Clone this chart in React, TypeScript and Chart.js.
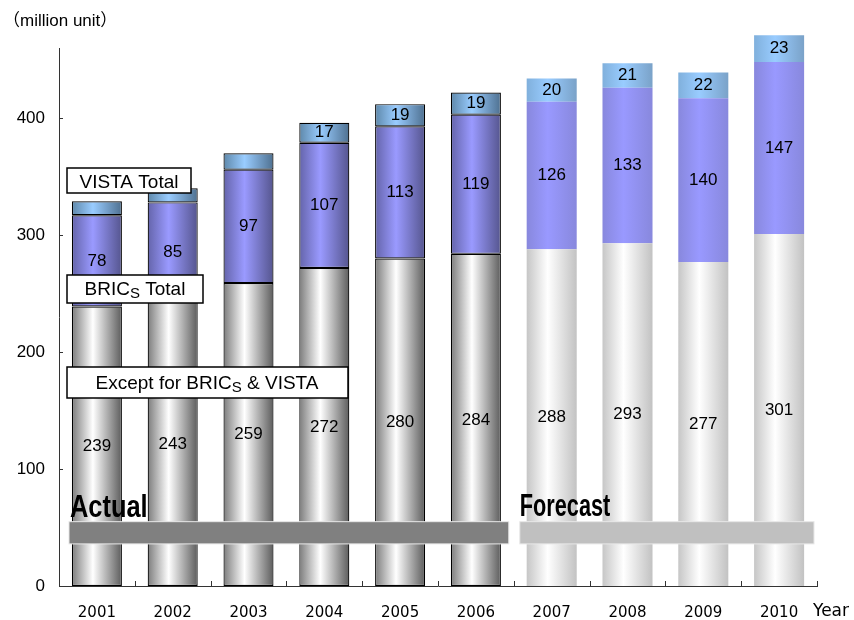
import React, { useEffect, useRef } from "react";
import { Chart, registerables } from "chart.js";

Chart.register(...registerables);

const years = ["2001", "2002", "2003", "2004", "2005", "2006", "2007", "2008", "2009", "2010"];
const exceptValues = [239, 243, 259, 272, 280, 284, 288, 293, 277, 301];
const bricsValues = [78, 85, 97, 107, 113, 119, 126, 133, 140, 147];
const vistaValues = [12, 12, 14, 17, 19, 19, 20, 21, 22, 23];
const vistaLabelShown = [false, false, false, true, true, true, true, true, true, true];
const yTicks = [0, 100, 200, 300, 400];
const actualCount = 6;

const FONT = "'Liberation Sans', Arial, sans-serif";

type Stops = [number, string][];
const palettes: Record<string, { actual: Stops; forecast: Stops }> = {
  except: {
    actual: [[0, "#7c7c7c"], [0.42, "#ffffff"], [1, "#5c5c5c"]],
    forecast: [[0, "#c6c6c6"], [0.42, "#ffffff"], [1, "#c2c2c2"]],
  },
  brics: {
    actual: [[0, "#6464aa"], [0.42, "#9a9aff"], [1, "#55558e"]],
    forecast: [[0, "#8888dd"], [0.42, "#9999ff"], [1, "#8888dd"]],
  },
  vista: {
    actual: [[0, "#5e88aa"], [0.42, "#99ccff"], [1, "#4e7090"]],
    forecast: [[0, "#80b0dc"], [0.42, "#99ccff"], [1, "#7aa2c8"]],
  },
};

function gradientFor(key: string) {
  return (ctx: any) => {
    const chart = ctx.chart;
    const xs = chart.scales && chart.scales.x;
    const idx = ctx.dataIndex ?? 0;
    const stops = idx < actualCount ? palettes[key].actual : palettes[key].forecast;
    if (!xs || !isFinite(xs.width) || xs.width <= 0) return stops[1][1];
    const cx = xs.getPixelForValue(idx);
    const w = (xs.width / years.length) * 0.66;
    const g = chart.ctx.createLinearGradient(cx - w / 2, 0, cx + w / 2, 0);
    stops.forEach(([o, c]) => g.addColorStop(o, c));
    return g;
  };
}

const borderW = (ctx: any) => ((ctx.dataIndex ?? 0) < actualCount ? 1.2 : 0);

const overlayPlugin = {
  id: "overlay",
  afterDatasetsDraw(chart: any) {
    const { ctx, chartArea, scales } = chart;
    const xs = scales.x;
    const ys = scales.y;
    ctx.save();

    // value labels
    ctx.fillStyle = "#000";
    ctx.font = `17px ${FONT}`;
    ctx.textAlign = "center";
    ctx.textBaseline = "middle";
    chart.data.datasets.forEach((ds: any, di: number) => {
      const meta = chart.getDatasetMeta(di);
      meta.data.forEach((el: any, i: number) => {
        if (di === 2 && !vistaLabelShown[i]) return;
        const top = Math.min(el.y, el.base);
        const bot = Math.max(el.y, el.base);
        ctx.fillText(String(ds.data[i]), el.x, (top + bot) / 2);
      });
    });

    // custom ticks (inside)
    ctx.strokeStyle = "#333";
    ctx.lineWidth = 1;
    ctx.beginPath();
    yTicks.forEach((v) => {
      const y = Math.round(ys.getPixelForValue(v)) + 0.5;
      ctx.moveTo(chartArea.left, y);
      ctx.lineTo(chartArea.left + 4, y);
    });
    const cw = xs.width / years.length;
    for (let i = 1; i <= years.length; i++) {
      const x = Math.round(chartArea.left + cw * i) + 0.5;
      ctx.moveTo(x, chartArea.bottom);
      ctx.lineTo(x, chartArea.bottom - 5);
    }
    ctx.stroke();

    // Actual / Forecast bands
    const bandTop = ys.getPixelForValue(55);
    const bandBot = ys.getPixelForValue(36);
    const split = chartArea.left + cw * actualCount;
    ctx.fillStyle = "#808080";
    ctx.strokeStyle = "#e8e8e8";
    ctx.lineWidth = 1;
    ctx.fillRect(chartArea.left + 10, bandTop, split - 5 - (chartArea.left + 10), bandBot - bandTop);
    ctx.strokeRect(chartArea.left + 10, bandTop, split - 5 - (chartArea.left + 10), bandBot - bandTop);
    ctx.fillStyle = "#c0c0c0";
    ctx.fillRect(split + 6, bandTop, chartArea.right - 3 - (split + 6), bandBot - bandTop);
    ctx.strokeRect(split + 6, bandTop, chartArea.right - 3 - (split + 6), bandBot - bandTop);

    // Actual / Forecast text
    ctx.fillStyle = "#000";
    ctx.textAlign = "left";
    ctx.textBaseline = "alphabetic";
    ctx.font = `bold 31px ${FONT}`;
    ctx.save();
    ctx.translate(chartArea.left + 11, bandTop - 5);
    ctx.scale(0.82, 1);
    ctx.fillText("Actual", 0, 0);
    ctx.restore();
    ctx.save();
    ctx.translate(split + 6, bandTop - 6);
    ctx.scale(0.7, 1);
    ctx.fillText("Forecast", 0, 0);
    ctx.restore();

    // annotation boxes
    const drawBox = (x: number, y: number, w: number, h: number) => {
      ctx.fillStyle = "#fff";
      ctx.fillRect(x, y, w, h);
      ctx.strokeStyle = "#000";
      ctx.lineWidth = 1.5;
      ctx.strokeRect(x, y, w, h);
    };
    const drawBricsText = (parts: string[], cx: number, cy: number) => {
      ctx.font = `19px ${FONT}`;
      const w1 = ctx.measureText(parts[0]).width;
      const w3 = ctx.measureText(parts[2]).width;
      ctx.font = `15px ${FONT}`;
      const w2 = ctx.measureText(parts[1]).width;
      const total = w1 + w2 + w3;
      let x = cx - total / 2;
      ctx.fillStyle = "#000";
      ctx.textAlign = "left";
      ctx.textBaseline = "alphabetic";
      const base = cy + 7;
      ctx.font = `19px ${FONT}`;
      ctx.fillText(parts[0], x, base);
      x += w1;
      ctx.font = `15px ${FONT}`;
      ctx.fillText(parts[1], x, base + 3);
      x += w2;
      ctx.font = `19px ${FONT}`;
      ctx.fillText(parts[2], x, base);
    };

    drawBox(67, 168, 124, 25);
    ctx.fillStyle = "#000";
    ctx.font = `19px ${FONT}`;
    ctx.textAlign = "center";
    ctx.textBaseline = "alphabetic";
    ctx.fillText("VISTA Total", 129, 188);

    drawBox(67, 275, 136, 28);
    drawBricsText(["BRIC", "S", " Total"], 135, 288);

    drawBox(67, 367, 281, 31);
    drawBricsText(["Except for BRIC", "S", " & VISTA"], 207, 382);

    // unit & axis title
    ctx.font = `17px ${FONT}, 'Noto Sans CJK JP'`;
    ctx.textAlign = "left";
    ctx.textBaseline = "middle";
    ctx.fillText("（million unit）", 3, 21);
    ctx.font = `17px 'DejaVu Sans', sans-serif`;
    ctx.fillText("Year", chartArea.right - 4, 612);

    ctx.restore();
  },
};

export default function App() {
  const ref = useRef<HTMLCanvasElement | null>(null);
  useEffect(() => {
    if (!ref.current) return;
    const chart = new Chart(ref.current, {
      type: "bar",
      data: {
        labels: years,
        datasets: [
          { label: "Except for BRICs & VISTA", data: exceptValues, backgroundColor: gradientFor("except") as any, borderColor: "#000", borderWidth: borderW as any, borderSkipped: false },
          { label: "BRICs Total", data: bricsValues, backgroundColor: gradientFor("brics") as any, borderColor: "#000", borderWidth: borderW as any, borderSkipped: false },
          { label: "VISTA Total", data: vistaValues, backgroundColor: gradientFor("vista") as any, borderColor: "#000", borderWidth: borderW as any, borderSkipped: false, clip: false as any },
        ],
      },
      options: {
        animation: false,
        responsive: false,
        maintainAspectRatio: false,
        datasets: { bar: { categoryPercentage: 1, barPercentage: 0.66 } },
        layout: { padding: { left: 0, right: 37, top: 48, bottom: 0 } },
        plugins: { legend: { display: false }, tooltip: { enabled: false } },
        scales: {
          x: {
            stacked: true,
            grid: { display: false, drawTicks: false },
            border: { display: true, color: "#333", width: 1 },
            ticks: { font: { family: "'DejaVu Sans', sans-serif", size: 15 }, color: "#000", padding: 18, maxRotation: 0 },
            afterFit: (s: any) => { s.height = 34; },
          },
          y: {
            stacked: true,
            min: 0,
            max: 460,
            grid: { display: false, drawTicks: false },
            border: { display: true, color: "#333", width: 1 },
            ticks: { stepSize: 100, font: { family: FONT, size: 17 }, color: "#000", padding: 14 },
            afterBuildTicks: (s: any) => { s.ticks = yTicks.map((v) => ({ value: v })); },
            afterFit: (s: any) => { s.width = 59; },
          },
        },
      },
      plugins: [overlayPlugin],
    });
    return () => chart.destroy();
  }, []);
  return (
    <div style={{ position: "fixed", left: 0, top: 0, width: 854, height: 620, background: "#fff" }}>
      <canvas ref={ref} width={854} height={620} style={{ width: 854, height: 620, display: "block" }} />
    </div>
  );
}
